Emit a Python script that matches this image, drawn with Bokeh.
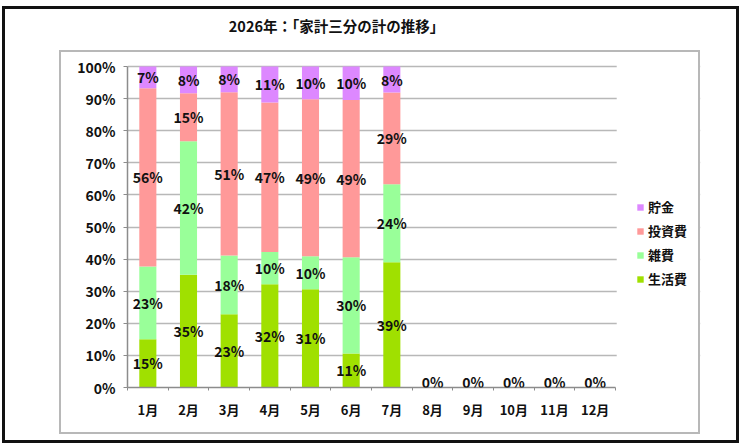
from bokeh.plotting import figure
from bokeh.models import (ColumnDataSource, LabelSet, Legend, LegendItem, FixedTicker, Label,
                          CustomJSTickFormatter, PrintfTickFormatter, Range1d, InlineStyleSheet,
                          BoxAnnotation)
from bokeh.core.properties import value
from bokeh.embed import file_html
from bokeh.resources import INLINE

# ---- data (percent shares) ----
months = ["1月", "2月", "3月", "4月", "5月", "6月", "7月", "8月", "9月", "10月", "11月", "12月"]
series_names = ["生活費", "雑費", "投資費", "貯金"]
living = [15.0, 35.1, 22.8, 32.2, 30.6, 10.6, 39.0, 0, 0, 0, 0, 0]
misc = [22.7, 41.6, 18.3, 10.0, 10.3, 30.0, 24.3, 0, 0, 0, 0, 0]
invest = [55.5, 15.0, 50.9, 46.6, 48.9, 49.0, 28.6, 0, 0, 0, 0, 0]
savings = [6.8, 8.3, 8.0, 11.2, 10.2, 10.4, 8.1, 0, 0, 0, 0, 0]
colors = ["#a0e000", "#99ff99", "#ff9999", "#dd88ff"]
y_ticks = [0, 10, 20, 30, 40, 50, 60, 70, 80, 90, 100]
title_text = "2026年：「家計三分の計の推移」"

FONT = "Noto Sans CJK JP"
N = len(months)

xs = [i + 0.5 for i in range(N)]
source = ColumnDataSource(dict(x=xs, 生活費=living, 雑費=misc, 投資費=invest, 貯金=savings))

# label positions (segment centers)
lx, ly, lt = [], [], []
zx, zt = [], []
for i in range(N):
    vals = [living[i], misc[i], invest[i], savings[i]]
    total = sum(vals)
    if total == 0:
        zx.append(xs[i]); zt.append("0%")
        continue
    base = 0.0
    for v in vals:
        pct = v / total * 100
        if pct > 0:
            lx.append(xs[i]); ly.append(base + pct / 2); lt.append("%d%%" % int(pct + 0.5))
        base += pct
lsource = ColumnDataSource(dict(x=lx, y=ly, text=lt))
zsource = ColumnDataSource(dict(x=zx, y=[0] * len(zx), text=zt))

# layout: plot frame spans x 127..700, y 8..387 on the canvas; data 0..12 occupies 127..615,
# 0..100% occupies 66..387 (extra room inside the frame holds title and legend)
W, H = 742, 446
F_LEFT, F_RIGHT, F_TOP, F_BOTTOM = 127, 700, 8, 387
DATA_RIGHT, DATA_TOP = 615, 66
x_end = N * (F_RIGHT - F_LEFT) / (DATA_RIGHT - F_LEFT)
y_end = 100 * (F_BOTTOM - F_TOP) / (F_BOTTOM - DATA_TOP)

p = figure(width=W, height=H, output_backend="svg", toolbar_location=None,
           x_range=Range1d(0, x_end), y_range=Range1d(0, y_end),
           min_border_left=F_LEFT, min_border_right=W - F_RIGHT,
           min_border_top=F_TOP, min_border_bottom=H - F_BOTTOM)
p.background_fill_color = "white"
p.border_fill_color = "white"
p.outline_line_color = None

# hide grid lines to the right of the category area (legend region)
p.add_layout(BoxAnnotation(left=N + 0.03, fill_color="white", fill_alpha=1,
                           line_alpha=0, level="underlay"))

renderers = p.vbar_stack(series_names, x="x", width=0.42, color=colors, line_color=None, source=source)

# axes
p.yaxis.ticker = FixedTicker(ticks=y_ticks)
p.yaxis.formatter = PrintfTickFormatter(format="%d%%")
p.yaxis.bounds = (0, 100)
p.xaxis.ticker = FixedTicker(ticks=xs, minor_ticks=list(range(0, N + 1)))
p.xaxis.formatter = CustomJSTickFormatter(args=dict(labels=months),
                                          code="return labels[Math.floor(tick)]")
p.xaxis.bounds = (0, N)
for ax in (p.xaxis, p.yaxis):
    ax.axis_line_color = "#8c8c8c"
    ax.axis_line_width = 1.5
    ax.major_label_text_font = FONT
    ax.major_label_text_font_style = "bold"
    ax.major_label_text_color = "#111111"
p.yaxis.major_label_text_font_size = "14px"
p.xaxis.major_label_text_font_size = "13px"
p.yaxis.major_tick_line_color = "#8c8c8c"
p.yaxis.major_tick_in = 0
p.yaxis.major_tick_out = 4
p.yaxis.minor_tick_line_color = None
p.yaxis.major_label_standoff = 8
p.xaxis.major_tick_line_color = None
p.xaxis.minor_tick_line_color = "#8c8c8c"
p.xaxis.minor_tick_in = 0
p.xaxis.minor_tick_out = 3
p.xaxis.major_label_standoff = 6

p.xgrid.grid_line_color = None
p.ygrid.grid_line_color = "#b8b8b8"
p.ygrid.grid_line_width = 1.5

# data labels
common = dict(text_align="center", text_font=value(FONT), text_font_size="14px",
              text_font_style="bold", text_color="#111111")
p.add_layout(LabelSet(x="x", y="y", text="text", source=lsource, text_baseline="middle", **common))
p.add_layout(LabelSet(x="x", y="y", text="text", source=zsource, text_baseline="alphabetic", **common))

# legend
items = [LegendItem(label=series_names[k], renderers=[renderers[k]]) for k in (3, 2, 1, 0)]
legend = Legend(items=items, location=(509, 99), orientation="vertical",
                glyph_width=8, glyph_height=8, label_height=16, spacing=5,
                label_standoff=4, padding=0, margin=0,
                label_text_font=FONT, label_text_font_size="13px", label_text_font_style="bold",
                label_text_color="#111111", border_line_color=None, background_fill_alpha=0)
p.add_layout(legend)

# title
p.add_layout(Label(x=336 - F_LEFT, y=F_BOTTOM - 25, x_units="screen", y_units="screen",
                   text=title_text, text_align="center", text_baseline="middle",
                   text_font=FONT, text_font_size="14.5px", text_font_style="bold",
                   text_color="#111111"))

# chart-area boxes (outer black frame, inner grey plot-area box)
css = """
:host { position: relative; }
:host::before { content: ""; position: absolute; left: 2px; top: 6px; width: 737px; height: 437px;
  box-sizing: border-box; border: 3px solid #111111; pointer-events: none; z-index: 100; }
:host::after { content: ""; position: absolute; left: 59px; top: 50px; width: 641px; height: 384px;
  box-sizing: border-box; border: 2px solid #b8b8b8; pointer-events: none; z-index: 100; }
"""
p.stylesheets = [InlineStyleSheet(css=css)]

open("out.html", "w").write(file_html(p, INLINE))
